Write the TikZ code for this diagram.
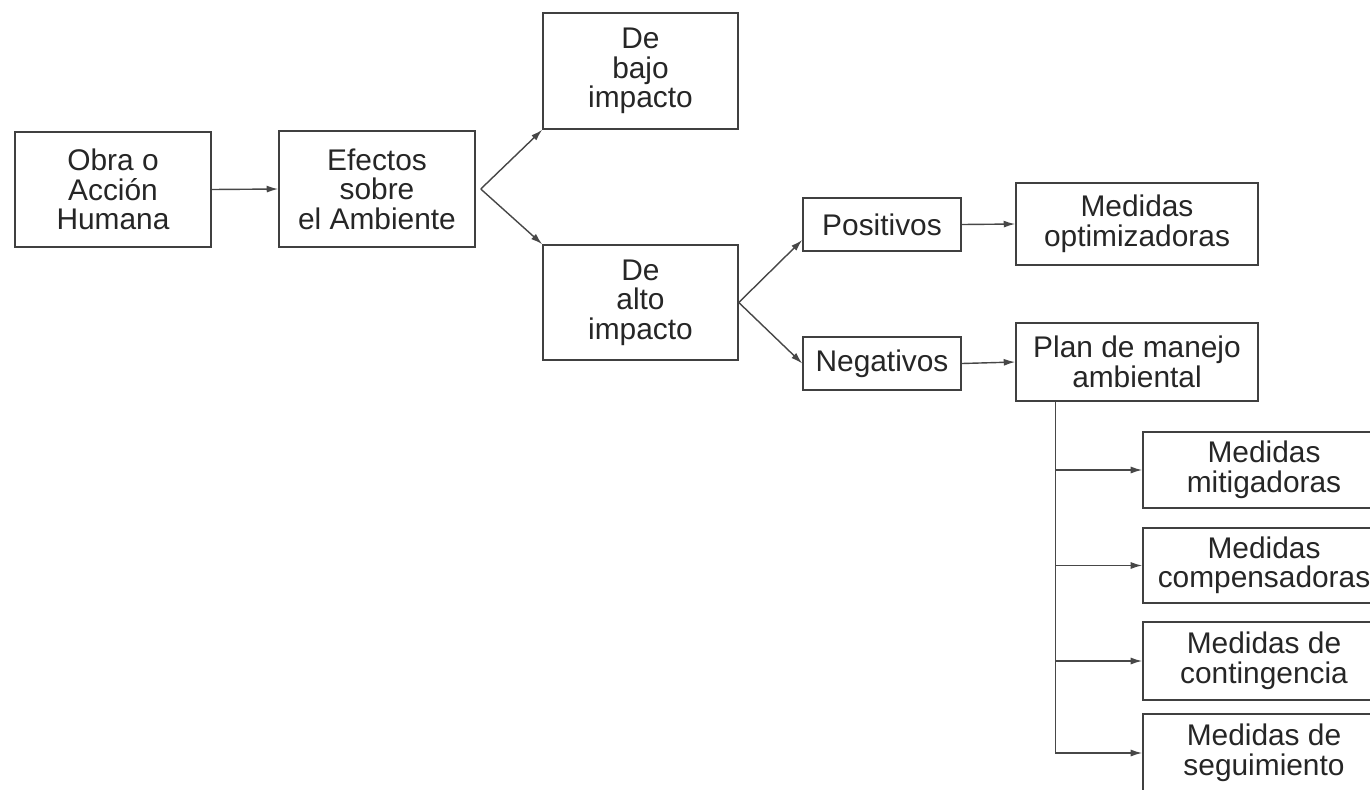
\documentclass[tikz,border=0pt]{standalone}
\usepackage{fontspec}
\setmainfont{Liberation Sans}
\usetikzlibrary{arrows.meta}
\tikzset{
	caja/.style={draw=black!75, line width=0.9pt, text=black!85, align=center, inner sep=0pt, font=\fontsize{17}{16.8}\selectfont},
	flecha/.style={draw=black!72, line width=0.8pt, -{Latex[length=2.3mm,width=1.4mm]}},
}

\begin{document}
\begin{tikzpicture}[x=0.02cm, y=-0.02cm]
			%%%%% START %%%%%
			
			\clip (0, 0) rectangle (1370, 789);
			
			\node[caja, minimum width=3.92cm, minimum height=2.30cm] (obra) at (113, 189.5) {Obra o\\Acci\'on\\Humana};
			\node[caja, minimum width=3.92cm, minimum height=2.32cm] (efectos) at (377, 189) {Efectos\\sobre\\el Ambiente};
			
			\node[caja, minimum width=3.90cm, minimum height=2.32cm] (bajo) at (640.5, 71) {De\\bajo\\impacto};
			\node[caja, minimum width=3.90cm, minimum height=2.30cm] (alto) at (640.5, 302.5) {De\\alto\\impacto};
			
			\node[caja, minimum width=3.16cm, minimum height=1.06cm] (positivos) at (882, 224.5) {Positivos};
			\node[caja, minimum width=3.16cm, minimum height=1.06cm] (negativos) at (882, 363.5) {Negativos};
			
			\node[caja, minimum width=4.84cm, minimum height=1.64cm] (optim) at (1137, 224) {Medidas\\optimizadoras};
			\node[caja, minimum width=4.84cm, minimum height=1.56cm] (plan) at (1137, 362) {Plan de manejo\\ambiental};
			
			\node[caja, minimum width=4.84cm, minimum height=1.52cm] (mitig) at (1264, 470) {Medidas\\mitigadoras};
			\node[caja, minimum width=4.84cm, minimum height=1.50cm] (compens) at (1264, 565.5) {Medidas\\compensadoras};
			\node[caja, minimum width=4.84cm, minimum height=1.56cm] (conting) at (1264, 661) {Medidas de\\contingencia};
			\node[caja, minimum width=4.84cm, minimum height=1.56cm] (seguim) at (1264, 753) {Medidas de\\seguimiento};
			
			\draw[flecha] (obra.east) -- (efectos.west);
			\draw[flecha] ([xshift=0.1cm]efectos.east) -- (bajo.south west);
			\draw[flecha] ([xshift=0.1cm]efectos.east) -- (alto.north west);
			
			\draw[flecha] (alto.east) -- ([yshift=-0.31cm]positivos.west);
			\draw[flecha] (alto.east) -- (negativos.west);
			
			\draw[flecha] (positivos.east) -- (optim.west);
			\draw[flecha] (negativos.east) -- (plan.west);
			
			\coordinate (tronco) at ([xshift=0.8cm]plan.south west);
			\draw[flecha] (tronco) |- (seguim.west);
			\foreach \n in {mitig, compens, conting}
				\draw[flecha] (tronco |- \n.west) -- (\n.west);
			
			%%%%% END %%%%%
\end{tikzpicture}
\end{document}
